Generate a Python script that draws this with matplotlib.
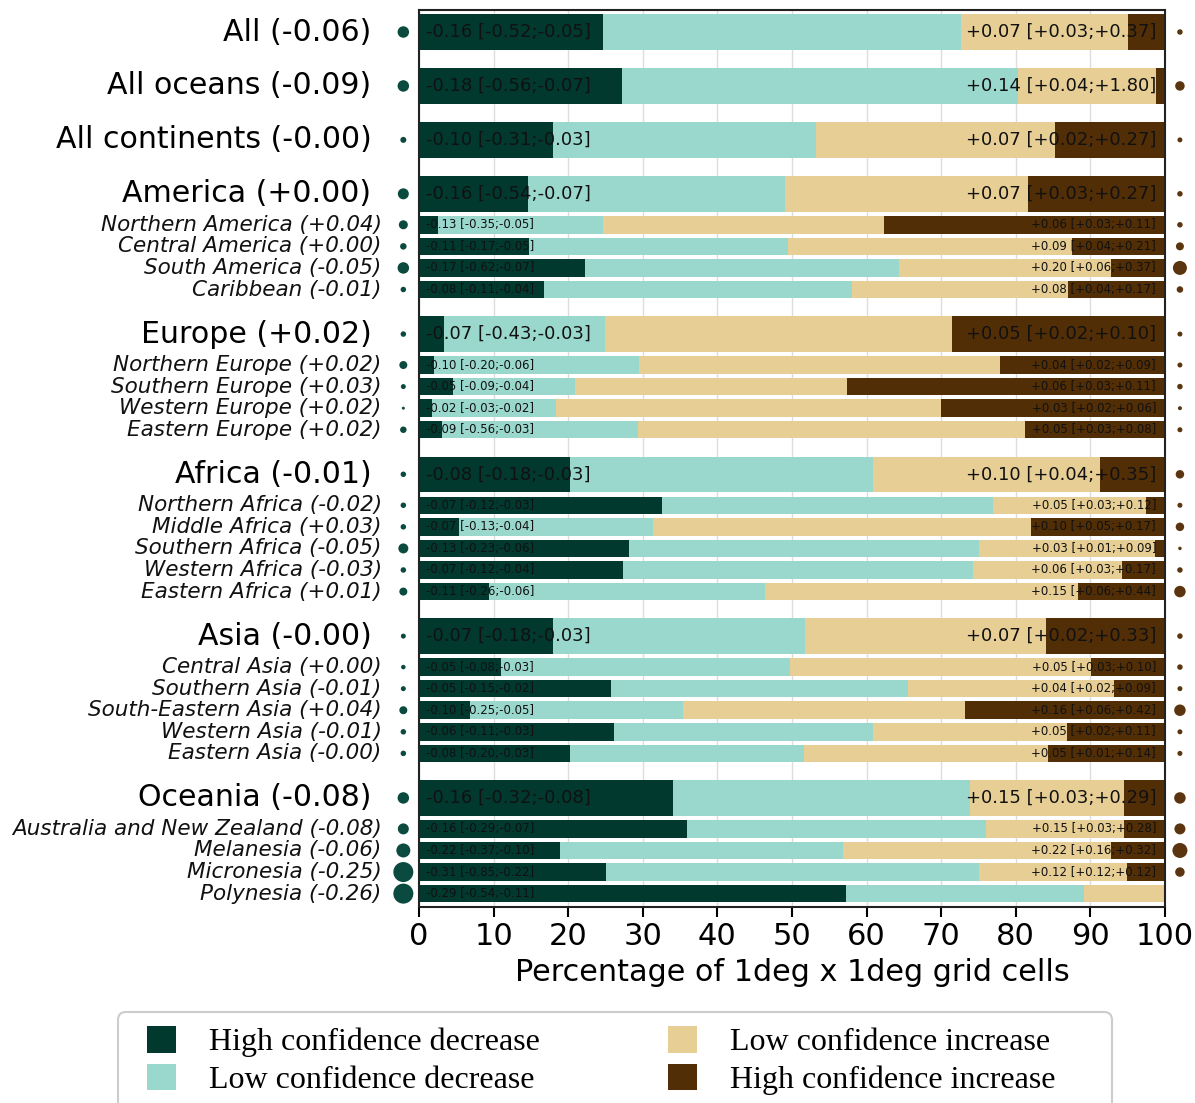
import matplotlib
matplotlib.use("Agg")
import matplotlib.pyplot as plt
from matplotlib.patches import Patch, FancyBboxPatch

# ---------------- data ----------------
regions = ["All (-0.06)", "All oceans (-0.09)", "All continents (-0.00)",
           "America (+0.00)", "Northern America (+0.04)", "Central America (+0.00)",
           "South America (-0.05)", "Caribbean (-0.01)",
           "Europe (+0.02)", "Northern Europe (+0.02)", "Southern Europe (+0.03)",
           "Western Europe (+0.02)", "Eastern Europe (+0.02)",
           "Africa (-0.01)", "Northern Africa (-0.02)", "Middle Africa (+0.03)",
           "Southern Africa (-0.05)", "Western Africa (-0.03)", "Eastern Africa (+0.01)",
           "Asia (-0.00)", "Central Asia (+0.00)", "Southern Asia (-0.01)",
           "South-Eastern Asia (+0.04)", "Western Asia (-0.01)", "Eastern Asia (-0.00)",
           "Oceania (-0.08)", "Australia and New Zealand (-0.08)", "Melanesia (-0.06)",
           "Micronesia (-0.25)", "Polynesia (-0.26)"]
is_main = [1, 1, 1, 1, 0, 0, 0, 0, 1, 0, 0, 0, 0, 1, 0, 0, 0, 0, 0,
           1, 0, 0, 0, 0, 0, 1, 0, 0, 0, 0]

high_dec = [24.6, 27.2, 18.0, 14.6, 2.5, 14.7, 22.2, 16.8, 3.3, 2.0, 4.5, 1.7, 3.1,
            20.3, 32.6, 5.4, 28.2, 27.4, 9.4, 18.0, 11.0, 25.7, 6.8, 26.1, 20.3,
            34.1, 35.9, 18.9, 25.1, 57.2]
low_dec = [48.1, 53.1, 35.2, 34.4, 22.2, 34.7, 42.1, 41.2, 21.6, 27.5, 16.4, 16.7, 26.2,
           40.5, 44.3, 26.0, 46.8, 46.9, 37.0, 33.8, 38.7, 39.9, 28.6, 34.7, 31.3,
           39.7, 40.1, 37.9, 49.9, 32.0]
low_inc = [22.3, 18.5, 32.1, 32.6, 37.6, 38.2, 28.5, 29.0, 46.5, 48.4, 36.5, 51.6, 52.0,
           30.5, 20.6, 50.7, 23.6, 19.9, 42.0, 32.3, 40.4, 27.6, 37.8, 26.1, 32.7,
           20.7, 18.5, 36.0, 19.9, 10.8]
high_inc = [5.0, 1.2, 14.7, 18.4, 37.7, 12.4, 7.2, 13.0, 28.6, 22.1, 42.6, 30.0, 18.7,
            8.7, 2.5, 17.9, 1.4, 5.8, 11.6, 15.9, 9.9, 6.8, 26.8, 13.1, 15.7,
            5.5, 5.5, 7.2, 5.1, 0.0]

dec_text = ["-0.16 [-0.52;-0.05]", "-0.18 [-0.56;-0.07]", "-0.10 [-0.31;-0.03]",
            "-0.16 [-0.54;-0.07]", "-0.13 [-0.35;-0.05]", "-0.11 [-0.17;-0.05]",
            "-0.17 [-0.62;-0.07]", "-0.08 [-0.11;-0.04]",
            "-0.07 [-0.43;-0.03]", "-0.10 [-0.20;-0.06]", "-0.05 [-0.09;-0.04]",
            "-0.02 [-0.03;-0.02]", "-0.09 [-0.56;-0.03]",
            "-0.08 [-0.18;-0.03]", "-0.07 [-0.12;-0.03]", "-0.07 [-0.13;-0.04]",
            "-0.13 [-0.23;-0.06]", "-0.07 [-0.12;-0.04]", "-0.11 [-0.26;-0.06]",
            "-0.07 [-0.18;-0.03]", "-0.05 [-0.08;-0.03]", "-0.05 [-0.15;-0.02]",
            "-0.10 [-0.25;-0.05]", "-0.06 [-0.11;-0.03]", "-0.08 [-0.20;-0.03]",
            "-0.16 [-0.32;-0.08]", "-0.16 [-0.29;-0.07]", "-0.22 [-0.37;-0.10]",
            "-0.31 [-0.85;-0.22]", "-0.29 [-0.54;-0.11]"]
inc_text = ["+0.07 [+0.03;+0.37]", "+0.14 [+0.04;+1.80]", "+0.07 [+0.02;+0.27]",
            "+0.07 [+0.03;+0.27]", "+0.06 [+0.03;+0.11]", "+0.09 [+0.04;+0.21]",
            "+0.20 [+0.06;+0.37]", "+0.08 [+0.04;+0.17]",
            "+0.05 [+0.02;+0.10]", "+0.04 [+0.02;+0.09]", "+0.06 [+0.03;+0.11]",
            "+0.03 [+0.02;+0.06]", "+0.05 [+0.03;+0.08]",
            "+0.10 [+0.04;+0.35]", "+0.05 [+0.03;+0.12]", "+0.10 [+0.05;+0.17]",
            "+0.03 [+0.01;+0.09]", "+0.06 [+0.03;+0.17]", "+0.15 [+0.06;+0.44]",
            "+0.07 [+0.02;+0.33]", "+0.05 [+0.03;+0.10]", "+0.04 [+0.02;+0.09]",
            "+0.16 [+0.06;+0.42]", "+0.05 [+0.02;+0.11]", "+0.05 [+0.01;+0.14]",
            "+0.15 [+0.03;+0.29]", "+0.15 [+0.03;+0.28]", "+0.22 [+0.16;+0.32]",
            "+0.12 [+0.12;+0.12]", ""]

# dot diameters (pixels)
dec_dot = [11.5, 11.5, 6, 11, 9, 6.5, 11.5, 5.5, 5.5, 8, 5, 3, 6.5,
           5.5, 5.5, 5.5, 10, 5.5, 8, 5, 4.5, 5, 8, 5.5, 5.5,
           11.5, 11, 14, 20, 20]
inc_dot = [5.5, 9.5, 5, 5.5, 5.5, 8, 14, 6.5, 5, 5, 5.5, 4, 5,
           8.5, 5, 8.5, 3.5, 5.5, 11.5, 5.5, 5.5, 5, 11.5, 5, 5,
           11.5, 11, 15, 9.5, 0]

legend_labels = ["High confidence decrease", "Low confidence decrease",
                 "Low confidence increase", "High confidence increase"]
colors = ["#01392E", "#9AD8CE", "#E6CE95", "#522E06"]
dot_dec_color = "#0B4A3E"
dot_inc_color = "#5A3510"

# ---------------- layout ----------------
W, H = 1195, 1103
fig = plt.figure(figsize=(W / 100, H / 100), dpi=100)
ax = fig.add_axes([419 / W, 1 - 907 / H, (1165 - 419) / W, (907 - 10) / H])

ys = []
y = 0.0
for i, m in enumerate(is_main):
    if i > 0:
        pm = is_main[i - 1]
        if pm and m:
            y += 2.5
        elif pm and not m:
            y += 1.435
        elif not pm and m:
            y += 2.065
        else:
            y += 1.0
    ys.append(y)

heights = [1.65 if m else 0.81 for m in is_main]

segs = [high_dec, low_dec, low_inc, high_inc]
lefts = [0.0] * len(regions)
for k, seg in enumerate(segs):
    ax.barh(ys, seg, left=lefts, height=heights, color=colors[k],
            edgecolor="none", zorder=2)
    lefts = [l + s for l, s in zip(lefts, seg)]

for i in range(len(regions)):
    main = is_main[i]
    fs_bar = 13 if main else 8.5
    ax.text(1.0, ys[i], dec_text[i], ha="left", va="center",
            fontsize=fs_bar, color="#111111", zorder=4)
    if inc_text[i]:
        ax.text(98.8, ys[i], inc_text[i], ha="right", va="center",
                fontsize=fs_bar, color="#111111", zorder=4)
    if main:
        ax.text(-6.4, ys[i], regions[i], ha="right", va="center",
                fontsize=21.6, color="black", clip_on=False)
    else:
        ax.text(-5.0, ys[i], regions[i], ha="right", va="center",
                fontsize=15.5, style="italic", color="#111111", clip_on=False)

ax.scatter([-2.1] * len(regions), ys, s=[(0.72 * d) ** 2 for d in dec_dot],
           color=dot_dec_color, clip_on=False, zorder=5, linewidths=0)
ax.scatter([102.0] * len(regions), ys, s=[(0.72 * d) ** 2 for d in inc_dot],
           color=dot_inc_color, clip_on=False, zorder=5, linewidths=0)

ax.set_xlim(0, 100)
ax.set_ylim(ys[-1] + 0.62, -1.02)
ax.set_yticks([])
ax.set_xticks(range(0, 101, 10))
ax.tick_params(axis="x", labelsize=22, length=7, width=1.5, direction="out", pad=4)
ax.set_xlabel("Percentage of 1deg x 1deg grid cells", fontsize=21.8, labelpad=5)
ax.grid(axis="x", color="#DDDDDD", linewidth=1.0, zorder=0)
ax.set_axisbelow(True)
for sp in ax.spines.values():
    sp.set_color("#222222")
    sp.set_linewidth(1.5)

# legend frame drawn separately (pixel coordinates)
frame = FancyBboxPatch((118, -20), 1112 - 118, (H - 1012) + 20,
                       boxstyle="round,pad=0,rounding_size=8",
                       facecolor="white", edgecolor="#CCCCCC", linewidth=1.5,
                       transform=None, zorder=1)
fig.patches.append(frame)

handles = [Patch(facecolor=c, edgecolor="none") for c in colors]
leg = fig.legend(handles, legend_labels, ncol=2, loc="upper left",
                 bbox_to_anchor=(147 / W, 1 - 1026 / H),
                 prop={"family": "Liberation Serif", "size": 23},
                 handlelength=0.9, handleheight=0.9, handletextpad=1.05,
                 columnspacing=4.0, labelspacing=0.2, borderpad=0.0,
                 borderaxespad=0.0, frameon=False)
leg.set_zorder(2)

fig.savefig("out.png", dpi=100)
